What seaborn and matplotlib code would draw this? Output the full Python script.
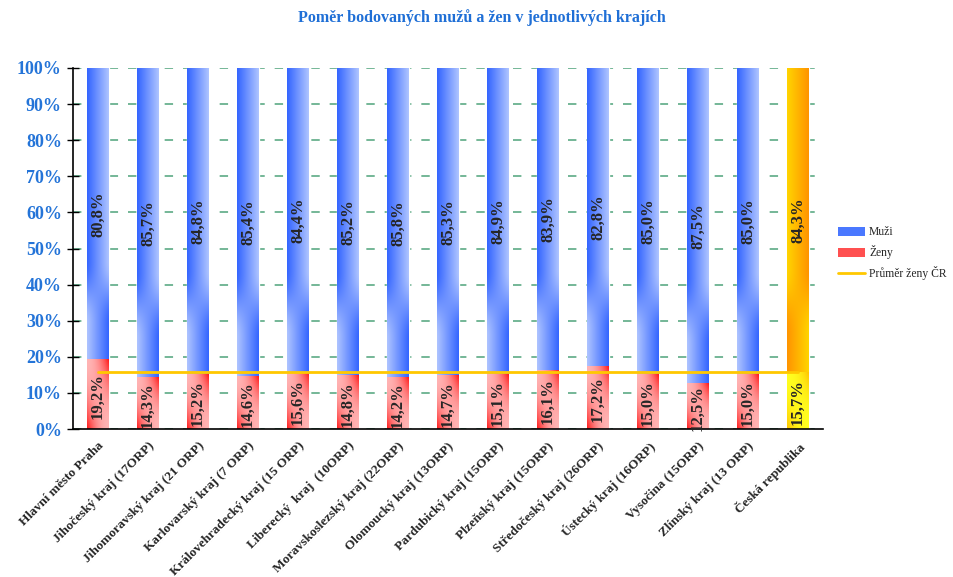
import numpy as np
import pandas as pd
import seaborn as sns
import matplotlib.pyplot as plt
from matplotlib.colors import LinearSegmentedColormap
from matplotlib.patches import Patch
from matplotlib.lines import Line2D

kraje = [
    "Hlavní město Praha", "Jihočeský kraj (17ORP)", "Jihomoravský kraj (21 ORP)",
    "Karlovarský kraj (7 ORP)", "Královehradecký kraj (15 ORP)", "Liberecký  kraj  (10ORP)",
    "Moravskoslezský kraj (22ORP)", "Olomoucký kraj (13ORP)", "Pardubický kraj (15ORP)",
    "Plzeňský kraj (15ORP)", "Středočeský kraj (26ORP)", "Ústecký kraj (16ORP)",
    "Vysočina (15ORP)", "Zlínský kraj (13 ORP)", "Česká republika",
]
muzi = [80.8, 85.7, 84.8, 85.4, 84.4, 85.2, 85.8, 85.3, 84.9, 83.9, 82.8, 85.0, 87.5, 85.0, 84.3]
zeny = [19.2, 14.3, 15.2, 14.6, 15.6, 14.8, 14.2, 14.7, 15.1, 16.1, 17.2, 15.0, 12.5, 15.0, 15.7]
prumer_zeny_cr = 15.7

df = pd.DataFrame({"kraj": kraje, "muzi": muzi, "zeny": zeny})
df["celkem"] = df["muzi"] + df["zeny"]

sns.set_style("white")
plt.rcParams["font.family"] = ["Liberation Serif", "DejaVu Serif"]

blue_cm = LinearSegmentedColormap.from_list("b", ["#aec4ff", "#3465ff"])
red_cm = LinearSegmentedColormap.from_list("r", ["#ffb4b4", "#ff1818"])
orange_cm = LinearSegmentedColormap.from_list("o", ["#ffd400", "#ff9400"])
yellow_cm = LinearSegmentedColormap.from_list("y", ["#ffff20", "#ffc400"])

fig = plt.figure(figsize=(9.54, 5.77), dpi=100)
ax = fig.add_axes([73 / 954, 1 - 429 / 577, 750 / 954, 361 / 577])

# stacked bars: full height first, women on top of it
sns.barplot(data=df, x="kraj", y="celkem", color="#5580ff", width=0.43, ax=ax, zorder=2)
sns.barplot(data=df, x="kraj", y="zeny", color="#ff7070", width=0.43, ax=ax, zorder=2)


def fill_gradient(x0, y0, w, h, cmap, kind):
    u = np.linspace(0, 1, 40)[None, :]
    v = np.linspace(0, 1, 200)[:, None]
    if kind == "upper":
        t = np.clip((v - 0.12) / 0.22, 0, 1)
        t = t * t * (3 - 2 * t)
        d = (1 - t) * u + t * (1 - u)
    elif kind == "upper_mirror":
        t = np.clip((v - 0.12) / 0.22, 0, 1)
        t = t * t * (3 - 2 * t)
        d = (1 - t) * (1 - u) + t * u
    else:
        d = (v * u) ** 2 + ((1 - v) * (1 - u)) ** 2
    ax.imshow(d, extent=[x0, x0 + w, y0, y0 + h], origin="lower", cmap=cmap,
              vmin=0, vmax=1, aspect="auto", zorder=2.5, interpolation="bilinear")


n = len(kraje)
patches = list(ax.patches)
for i in range(n):
    full, low = patches[i], patches[n + i]
    x0, w = full.get_x(), full.get_width()
    top = full.get_height()
    hz = low.get_height()
    last = i == n - 1
    fill_gradient(x0, hz, w, top - hz, orange_cm if last else blue_cm,
                  "upper_mirror" if last else "upper")
    fill_gradient(x0, 0, w, hz, yellow_cm if last else red_cm, "lower")

sns.lineplot(x=np.arange(n), y=np.full(n, prumer_zeny_cr), color="#ffc800", lw=2, ax=ax, zorder=4)

for i in range(n):
    z, m = zeny[i], muzi[i]
    ax.text(i, z / 2 - 0.4, f"{z:.1f}%".replace(".", ","), rotation=90, ha="center", va="center",
            fontsize=12, fontweight="bold", zorder=5)
    ax.text(i, z + m / 2, f"{m:.1f}%".replace(".", ","), rotation=90, ha="center", va="center",
            fontsize=12, fontweight="bold", zorder=5)

ax.set_xlim(-0.5, n - 0.5)
ax.set_ylim(0, 100)
ax.set_yticks(range(0, 101, 10))
ax.set_yticklabels([f"{v}%" for v in range(0, 101, 10)], color="#2474d8", fontweight="bold", fontsize=13)
ax.set_xticks(range(n))
ax.set_xticklabels(kraje, rotation=45, ha="right", rotation_mode="anchor", fontsize=9.5, fontweight="bold")
ax.set_xticks(np.arange(-0.5, n, 1), minor=True)
ax.tick_params(axis="x", which="major", length=0, pad=8)
ax.tick_params(axis="x", which="minor", length=6, direction="out", color="black", width=1)
ax.tick_params(axis="y", length=8, direction="inout", color="black", width=1, left=True, pad=4)
ax.set_xlabel("")
ax.set_ylabel("")

ax.yaxis.grid(True, color="#4ea37a", linestyle=(0, (5.5, 6.5)), lw=1.1)
ax.set_axisbelow(True)
for s in ["top", "right"]:
    ax.spines[s].set_visible(False)
for s in ["left", "bottom"]:
    ax.spines[s].set_color("black")
    ax.spines[s].set_linewidth(1.2)

fig.suptitle("Poměr bodovaných mužů a žen v jednotlivých krajích", x=0.505, y=0.985,
             color="#1f6fd6", fontweight="bold", fontsize=11.5)

handles = [Patch(facecolor="#4a78ff", edgecolor="none"),
           Patch(facecolor="#ff5050", edgecolor="none"),
           Line2D([0], [0], color="#ffc800", lw=2)]
fig.legend(handles, ["Muži", "Ženy", "Průměr ženy ČR"], loc="upper left",
           bbox_to_anchor=(0.870, 0.622), frameon=False, fontsize=8.4,
           handlelength=2.3, handleheight=0.8, labelspacing=0.6, handletextpad=0.35,
           borderpad=0.2)

fig.savefig("out.png", dpi=100)
